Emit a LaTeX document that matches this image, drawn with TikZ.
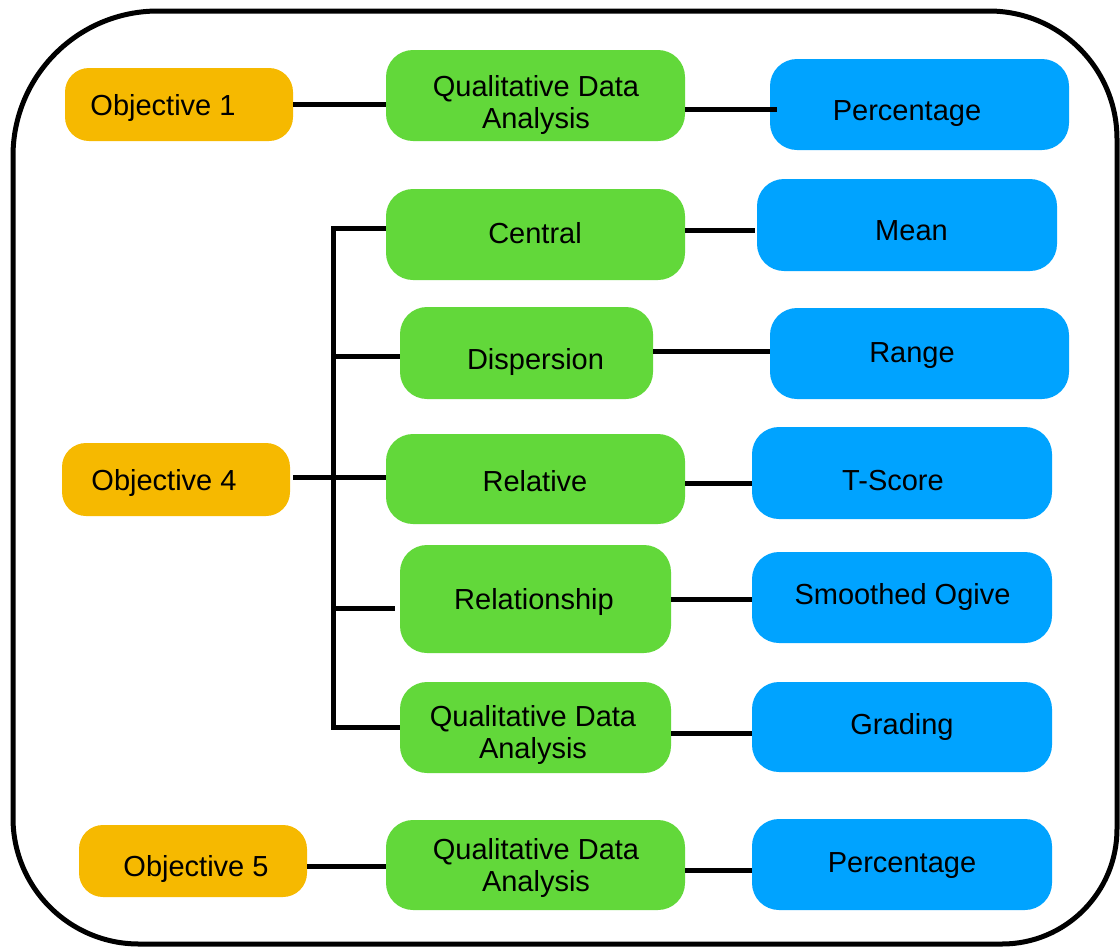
\documentclass[tikz,border=0pt]{standalone}
\usepackage{fontspec}
\setmainfont{Liberation Sans}
\usetikzlibrary{fit}
\definecolor{objorange}{HTML}{F6B900}
\definecolor{stepgreen}{HTML}{62D83A}
\definecolor{toolblue}{HTML}{00A3FF}
\tikzset{
  objbox/.style={fill=objorange, rounded corners=24, inner sep=0, draw=none},
  grnbox/.style={fill=stepgreen, rounded corners=27, inner sep=0, draw=none},
  blubox/.style={fill=toolblue, rounded corners=27, inner sep=0, draw=none},
  txt/.style={anchor=base, inner sep=0, align=center,
    font=\fontsize{29}{32}\selectfont},
  conn/.style={line width=5, black},
  frame/.style={line width=5, black}
}
\begin{document}
\begin{tikzpicture}[x=1pt, y=-1pt]
\useasboundingbox (0,0) rectangle (1120,946);

% outer frame with unequal corner radii
\draw[frame] (13,500) [rounded corners=145] -- (13,11) -- (565,11)
  [rounded corners=128] -- (1117,11) -- (1117,500)
  [rounded corners=115] -- (1117,944) -- (565,944)
  [rounded corners=126] -- (13,944) -- cycle;

% objectives
\node[objbox, fit={(65,68) (293,141)}] (o1) {};
\node[objbox, fit={(62,443) (290,516)}] (o4) {};
\node[objbox, fit={(79,825) (307,897)}] (o5) {};

% analysis types
\node[grnbox, fit={(386,50) (685,141)}] (q1) {};
\node[grnbox, fit={(386,189) (685,280)}] (cen) {};
\node[grnbox, fit={(400,307) (653,399)}] (dis) {};
\node[grnbox, fit={(386,434) (685,524)}] (rel) {};
\node[grnbox, fit={(400,545) (671,653)}] (rsh) {};
\node[grnbox, fit={(400,682) (671,773)}] (q2) {};
\node[grnbox, fit={(386,820) (685,910)}] (q3) {};

% techniques
\node[blubox, fit={(770,59) (1069,150)}] (p1) {};
\node[blubox, fit={(757,179) (1057,271)}] (mean) {};
\node[blubox, fit={(770,308) (1069,399)}] (range) {};
\node[blubox, fit={(752,427) (1052,519)}] (tsc) {};
\node[blubox, fit={(752,552) (1052,643)}] (ogv) {};
\node[blubox, fit={(752,682) (1052,772)}] (grd) {};
\node[blubox, fit={(752,819) (1052,910)}] (p2) {};

% labels (two-line labels sit on the baseline of their last line)
\node[txt] (o1t) at (163,115) {Objective 1};
\node[txt] (o4t) at (164,490) {Objective 4};
\node[txt] (o5t) at (196,876) {Objective 5};
\node[txt] (q1t) at (536,128.5) {Qualitative Data\\Analysis};
\node[txt] (cent) at (535,243) {Central};
\node[txt] (dist) at (535.5,369) {Dispersion};
\node[txt] (relt) at (535,491) {Relative};
\node[txt] (rsht) at (534,609) {Relationship};
\node[txt] (q2t) at (533,758) {Qualitative Data\\Analysis};
\node[txt] (q3t) at (536,891.5) {Qualitative Data\\Analysis};
\node[txt] (p1t) at (907,120.7) {Percentage};
\node[txt] (meant) at (911.5,240.7) {Mean};
\node[txt] (ranget) at (912,362.7) {Range};
\node[txt] (tsct) at (893,490.7) {T-Score};
\node[txt] (ogvt) at (902.5,604) {Smoothed Ogive};
\node[txt] (grdt) at (902,734) {Grading};
\node[txt] (p2t) at (902,872.7) {Percentage};

% connectors: objective to analysis
\draw[conn] (o1.east) -- (o1.east -| q1.west);
\draw[conn] ([yshift=-5pt]o5.east) -- ([yshift=-5pt]o5.east -| q3.west);
\draw[conn] ([yshift=2.5pt,xshift=3pt]o4.east) -- ([yshift=2.5pt]o4.east -| rel.west);

% bracket of the objective 4 branch
\coordinate (t1) at (333,228);
\coordinate (t2) at (333,727);
\coordinate (t3) at (333,356);
\coordinate (t4) at (333,608);
\draw[conn] (t1 -| cen.west) -- (t1) -- (t2) -- (t2 -| q2.west);
\draw[conn] (t3) -- (t3 -| dis.west);
\draw[conn] (t4) -- ([xshift=-5pt]t4 -| rsh.west);

% connectors: analysis to technique
\draw[conn] ([yshift=-13.5pt]q1.east) -- ([yshift=-13.5pt,xshift=7pt]q1.east -| p1.west);
\draw[conn] ([yshift=4.5pt]cen.east) -- ([yshift=4.5pt,xshift=-2pt]cen.east -| mean.west);
\draw[conn] ([yshift=2pt]dis.east) -- ([yshift=2pt]dis.east -| range.west);
\draw[conn] ([yshift=-4pt]rel.east) -- ([yshift=-4pt]rel.east -| tsc.west);
\draw[conn] (rsh.east) -- (rsh.east -| ogv.west);
\draw[conn] ([yshift=-5.5pt]q2.east) -- ([yshift=-5.5pt]q2.east -| grd.west);
\draw[conn] ([yshift=-5pt]q3.east) -- ([yshift=-5pt]q3.east -| p2.west);
\end{tikzpicture}
\end{document}
